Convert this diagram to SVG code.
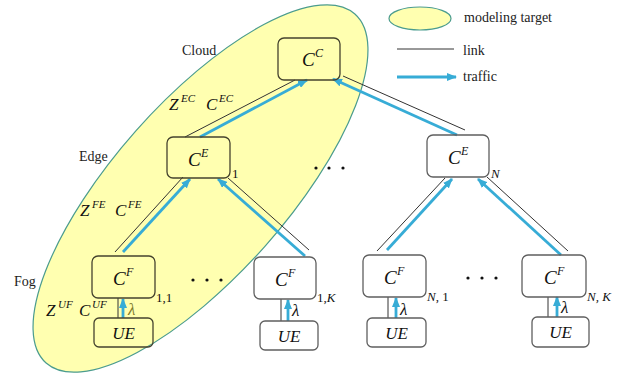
<svg xmlns="http://www.w3.org/2000/svg" width="625" height="381" viewBox="0 0 625 381">
<style>
.box{fill:none;stroke:#5f5f5f;stroke-width:1.3}
.boxin{fill:none;stroke:#45432e;stroke-width:1.3}
.link{stroke:#333;stroke-width:1;fill:none}
.traffic{stroke:#37acd6;stroke-width:2.8;fill:none;marker-end:url(#ah)}
.lbl{font-family:"Liberation Serif",serif;font-size:14px;fill:#222}
.m{font-family:"Liberation Serif",serif;font-style:italic;font-size:19px;fill:#111}
.ms{font-family:"Liberation Serif",serif;font-style:italic;font-size:12px;fill:#111}
.z{font-family:"Liberation Serif",serif;font-style:italic;font-size:17px;fill:#111}
.zs{font-family:"Liberation Serif",serif;font-style:italic;font-size:11px;fill:#111}
.ue{font-family:"Liberation Serif",serif;font-style:italic;font-size:17px;fill:#111;text-anchor:middle}
.sub{font-family:"Liberation Serif",serif;font-size:13px;fill:#111}
.lam{font-family:"Liberation Serif",serif;font-style:italic;font-size:17px;fill:#111}
.dot{fill:#111}
</style>
<defs>
<marker id="ah" markerUnits="userSpaceOnUse" markerWidth="10" markerHeight="8" refX="9" refY="4" orient="auto">
<path d="M0,0 L10,4 L0,8 Z" fill="#37acd6"/>
</marker>
</defs>
<rect width="625" height="381" fill="#fff"/>
<g id="target">
<ellipse cx="200.5" cy="188.5" rx="233" ry="86.6" transform="rotate(-48.5 200.5 188.5)" fill="#ffffb0" stroke="#4b9c8e" stroke-width="1.2"/>
</g>
<g id="legend">
<ellipse cx="420" cy="18.5" rx="31" ry="11.5" fill="#ffffb0" stroke="#4b9c8e" stroke-width="1.2"/>
<text class="lbl" x="464" y="22">modeling target</text>
<line class="link" x1="397" y1="49" x2="454" y2="49"/>
<text class="lbl" x="463" y="55">link</text>
<line class="traffic" x1="397" y1="77" x2="456" y2="77"/>
<text class="lbl" x="463" y="81">traffic</text>
</g>
<g id="layer-labels">
<text class="lbl" x="182" y="55">Cloud</text>
<text class="lbl" x="79" y="161">Edge</text>
<text class="lbl" x="14" y="286">Fog</text>
<text class="z" x="169" y="110">Z</text><text class="zs" x="181" y="102">EC</text>
<text class="z" x="206" y="110">C</text><text class="zs" x="219" y="102">EC</text>
<text class="z" x="80" y="216">Z</text><text class="zs" x="92" y="208">FE</text>
<text class="z" x="115" y="216">C</text><text class="zs" x="128" y="208">FE</text>
<text class="z" x="46" y="316">Z</text><text class="zs" x="58" y="308">UF</text>
<text class="z" x="79" y="316">C</text><text class="zs" x="92" y="308">UF</text>
</g>
<g id="connectors">
<line class="link" x1="185" y1="137" x2="295" y2="80"/>
<line class="traffic" x1="200" y1="137" x2="307" y2="80"/>
<line class="link" x1="343" y1="76" x2="465" y2="130"/>
<line class="traffic" x1="457" y1="135" x2="333" y2="79"/>
<line class="link" x1="183" y1="177" x2="115" y2="252"/>
<line class="traffic" x1="123" y1="252" x2="190" y2="179"/>
<line class="link" x1="228" y1="178" x2="309" y2="250"/>
<line class="traffic" x1="305" y1="256" x2="218" y2="179"/>
<line class="link" x1="445" y1="178" x2="377" y2="251"/>
<line class="traffic" x1="387" y1="250" x2="452" y2="179"/>
<line class="link" x1="487" y1="177" x2="568" y2="251"/>
<line class="traffic" x1="561" y1="255" x2="478" y2="179"/>
<line class="link" x1="118" y1="298" x2="118" y2="318" stroke="#555"/>
<line class="traffic" x1="123" y1="318" x2="123" y2="299"/>
<line class="link" x1="281" y1="299" x2="281" y2="321" stroke="#555"/>
<line class="traffic" x1="288" y1="321" x2="288" y2="300"/>
<line class="link" x1="388" y1="297" x2="388" y2="318" stroke="#555"/>
<line class="traffic" x1="396" y1="318" x2="396" y2="298"/>
<line class="link" x1="548" y1="297" x2="548" y2="317" stroke="#555"/>
<line class="traffic" x1="557" y1="317" x2="557" y2="297"/>
</g>
<g id="CC">
<rect class="boxin" x="278" y="38" width="62" height="42" rx="6"/>
<text class="m" x="302" y="66">C</text><text class="ms" x="315" y="57">C</text>
</g>
<g id="CE1">
<rect class="boxin" x="167" y="137" width="63" height="41" rx="6"/>
<text class="m" x="188" y="166">C</text><text class="ms" x="201" y="157">E</text>
<text class="sub" x="232" y="178">1</text>
</g>
<g id="CEN">
<rect class="box" x="427" y="135" width="62" height="42" rx="6"/>
<text class="m" x="448" y="164">C</text><text class="ms" x="461" y="155">E</text>
<text class="sub" x="491" y="178" font-style="italic">N</text>
</g>
<g id="CF11">
<rect class="boxin" x="92" y="256" width="63" height="42" rx="6"/>
<text class="m" x="113" y="285">C</text><text class="ms" x="126" y="276">F</text>
<text class="sub" x="156" y="302">1,1</text>
</g>
<g id="CF1K">
<rect class="box" x="254" y="257" width="62" height="42" rx="6"/>
<text class="m" x="275" y="286">C</text><text class="ms" x="288" y="277">F</text>
<text class="sub" x="317" y="302">1,<tspan font-style="italic">K</tspan></text>
</g>
<g id="CFN1">
<rect class="box" x="363" y="255" width="63" height="42" rx="6"/>
<text class="m" x="384" y="284">C</text><text class="ms" x="397" y="275">F</text>
<text class="sub" x="427" y="301"><tspan font-style="italic">N</tspan>, 1</text>
</g>
<g id="CFNK">
<rect class="box" x="522" y="255" width="64" height="42" rx="6"/>
<text class="m" x="544" y="284">C</text><text class="ms" x="557" y="275">F</text>
<text class="sub" x="587" y="301" font-style="italic">N, K</text>
</g>
<g id="UE11">
<rect class="boxin" x="94" y="318" width="59" height="29" rx="5"/>
<text class="ue" x="123.5" y="339">UE</text>
<text class="lam" x="128" y="315" fill="#7d7a2c" style="fill:#7d7a2c">λ</text>
</g>
<g id="UE1K">
<rect class="box" x="260" y="321" width="58" height="29" rx="5"/>
<text class="ue" x="289" y="342">UE</text>
<text class="lam" x="292" y="316">λ</text>
</g>
<g id="UEN1">
<rect class="box" x="367" y="318" width="59" height="29" rx="5"/>
<text class="ue" x="396.5" y="339">UE</text>
<text class="lam" x="400" y="315">λ</text>
</g>
<g id="UENK">
<rect class="box" x="532" y="317" width="57" height="30" rx="5"/>
<text class="ue" x="560.5" y="338">UE</text>
<text class="lam" x="561" y="313">λ</text>
</g>
<g id="dots">
<circle class="dot" cx="316" cy="168" r="1.6"/><circle class="dot" cx="329" cy="168" r="1.6"/><circle class="dot" cx="343" cy="168" r="1.6"/>
<circle class="dot" cx="193" cy="280" r="1.6"/><circle class="dot" cx="207" cy="280" r="1.6"/><circle class="dot" cx="221" cy="280" r="1.6"/>
<circle class="dot" cx="468" cy="278" r="1.6"/><circle class="dot" cx="482" cy="278" r="1.6"/><circle class="dot" cx="496" cy="278" r="1.6"/>
</g>
</svg>
